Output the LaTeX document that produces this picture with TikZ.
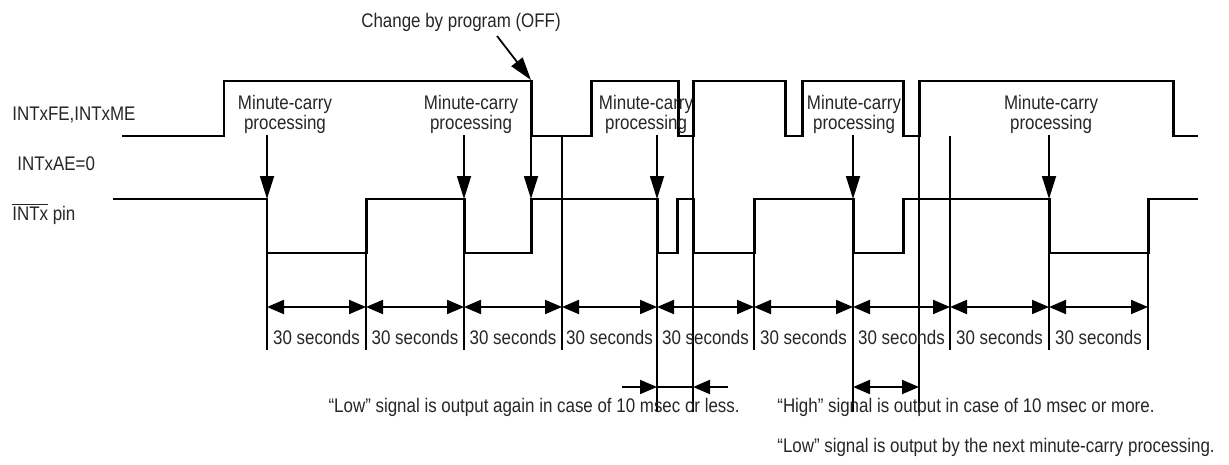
\documentclass[tikz,border=0pt]{standalone}
\usepackage{fontspec}
\setmainfont{Liberation Sans}[FakeStretch=0.86]
\usetikzlibrary{arrows.meta}

\tikzset{
  sig/.style={line width=1.7pt},
  ext/.style={line width=1pt},
  carry/.style={line width=1pt,-{Triangle[length=4.6mm,width=2.8mm]}},
  span/.style={line width=1.1pt,{Triangle[length=3.4mm,width=2.8mm]}-{Triangle[length=3.4mm,width=2.8mm]}},
  half/.style={line width=1.1pt,-{Triangle[length=3.4mm,width=2.8mm]}},
  txt/.style={font=\fontsize{11.2}{11.3}\selectfont,text=black!85,inner sep=0pt}
}

\begin{document}
\begin{tikzpicture}[x=0.02cm,y=-0.02cm]
\useasboundingbox (0,0) rectangle (1229,465);

%signal names
\node[txt,anchor=west] (fe) at (12,115) {INTxFE,INTxME};
\node[txt,anchor=west] (ae) at (17,164) {INTxAE=0};
\node[txt,anchor=west] (pin) at (12,214) {$\overline{\hbox{INTx}}$ pin};

% INTxFE,INTxME
\draw[sig] (122,136) -| (224,81) -| (531,136) -| (591,81) -| (678,136)
   -| (693,81) -| (785,136) -| (802,81) -| (903,136) -| (919,81)
   -| (1173,136) -- (1198,136);
% INTx pin
\draw[sig] (113,199) -| (267,253) -| (366,199) -| (464,253) -| (531,199)
   -| (657,253) -| (677,199) -| (693,253) -| (754,199) -| (853,253)
   -| (903,199) -| (1049,253) -| (1148,199) -- (1198,199);

%minute-carry processing
\foreach \x in {285,471,646,854,1051}
   \node[txt,align=center] (mc\x) at (\x,114) {Minute-carry\\processing};
\foreach \x in {267,464,531,657,853,1049}
   \draw[carry] (\x,135) -- (\x,199);

%change by program
\node[txt] (chg) at (461,22) {Change by program (OFF)};
\draw[carry] (497,36) -- (531,80);

%guide lines
\foreach \x/\a/\b in {267/253/350,366/253/350,464/253/350,562/136/350,
   657/253/412,693/136/199,693/253/412,754/253/350,853/253/412,
   919/136/412,950/136/350,1049/253/350,1148/253/350}
   \draw[ext] (\x,\a) -- (\x,\b);

%30 seconds
\foreach \a/\b in {267/366,366/464,464/562,562/657,657/754,754/853,
   853/950,950/1049,1049/1148}
{
   \draw[span] (\a,307) -- (\b,307);
   \node[txt] (sec\a) at ({(\a+\b)/2},337) {30 seconds};
}

%10 msec
\draw[half] (622,387) -- (657,387);
\draw[ext] (657,387) -- (693,387);
\draw[half] (728,387) -- (693,387);
\draw[span] (853,387) -- (919,387);

\node[txt,anchor=east] (less) at (740,407)
   {“Low” signal is output again in case of 10 msec or less.};
\node[txt,anchor=west] (more) at (777,407)
   {“High” signal is output in case of 10 msec or more.};
\node[txt,anchor=west] (next) at (777,447)
   {“Low” signal is output by the next minute-carry processing.};
\end{tikzpicture}
\end{document}
